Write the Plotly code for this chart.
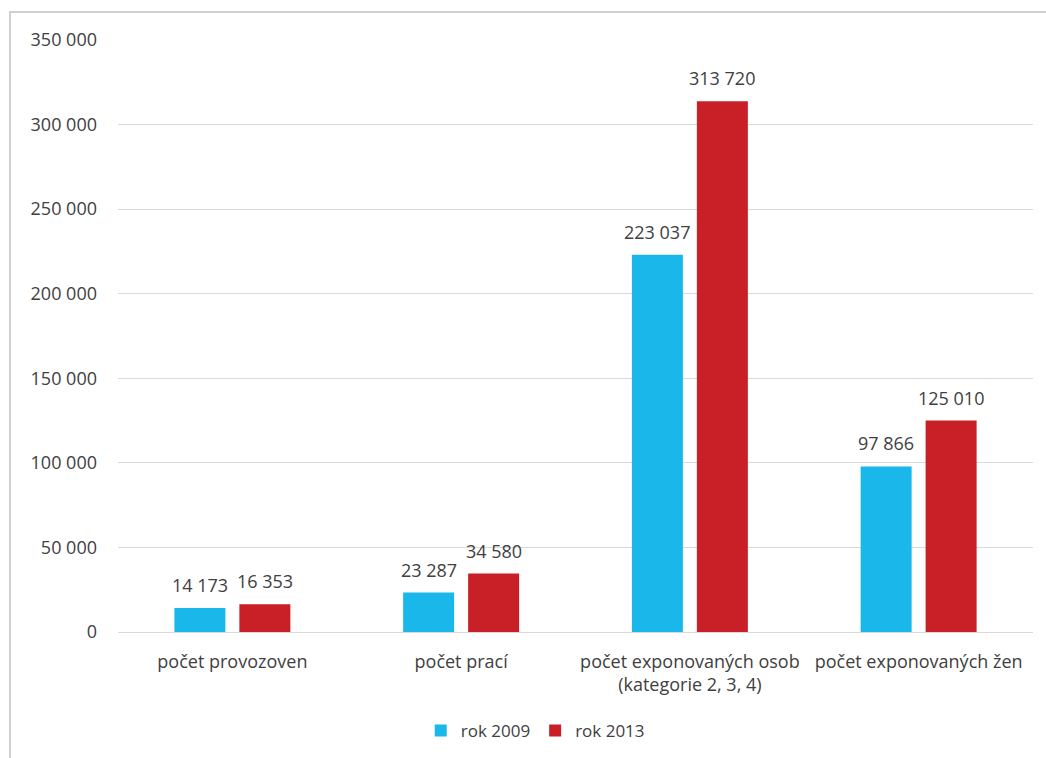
import plotly.graph_objects as go

categories = ["počet provozoven", "počet prací",
              "počet exponovaných osob<br>(kategorie 2, 3, 4)", "počet exponovaných žen"]
series_names = ["rok 2009", "rok 2013"]
values_2009 = [14173, 23287, 223037, 97866]
values_2013 = [16353, 34580, 313720, 125010]
tick_values = [0, 50000, 100000, 150000, 200000, 250000, 300000, 350000]

colors = ["#1AB8EA", "#C92027"]
font_family = "Open Sans, Liberation Sans, sans-serif"
text_color = "#404040"

def fmt(v):
    return f"{v:,}".replace(",", " ")

fig = go.Figure()
for name, vals, col in zip(series_names, [values_2009, values_2013], colors):
    fig.add_trace(go.Bar(
        x=categories, y=vals, name=name,
        marker=dict(color=col, line=dict(width=0)),
    ))

# data labels placed via the axes (category, value) with a small offset
annotations = []
for shift, vals in zip([-32.5, 32.5], [values_2009, values_2013]):
    for cat, v in zip(categories, vals):
        annotations.append(dict(
            x=cat, y=v, xref="x", yref="y", text=fmt(v), showarrow=False,
            xanchor="center", yanchor="bottom", xshift=shift, yshift=9,
            font=dict(size=18, color=text_color, family=font_family),
        ))

fig.update_layout(
    width=1046, height=758,
    margin=dict(l=118, r=13, t=40, b=126),
    paper_bgcolor="white", plot_bgcolor="white",
    barmode="group", bargap=0.432, bargroupgap=0.215,
    separators=". ",
    font=dict(family=font_family, size=18, color=text_color),
    showlegend=True,
    legend=dict(orientation="h", xref="paper", x=0.456, xanchor="center",
                yref="container", y=(758 - 731) / 758, yanchor="middle",
                font=dict(size=17, color=text_color), traceorder="normal"),
    xaxis=dict(showgrid=False, showline=False, ticks="", automargin=False,
               ticklabelstandoff=17, tickfont=dict(size=18, color=text_color)),
    yaxis=dict(range=[0, 350000], tickvals=tick_values, tickformat=",d", automargin=False,
               showgrid=True, gridcolor="#D9D9D9", gridwidth=1,
               zeroline=True, zerolinecolor="#D9D9D9", zerolinewidth=1,
               showline=False, ticks="", ticklabelstandoff=20,
               tickfont=dict(size=18, color=text_color)),
    annotations=annotations,
    shapes=[dict(type="rect", xref="paper", yref="paper",
                 x0=(10 - 118) / 915, x1=1.2, y0=-0.4, y1=(632 - 12) / 592,
                 line=dict(color="#D0D0D0", width=2), fillcolor="rgba(0,0,0,0)", layer="below")],
)

fig.write_html("out.html", config={"displayModeBar": False},
               post_script="document.body.style.margin='0';")
